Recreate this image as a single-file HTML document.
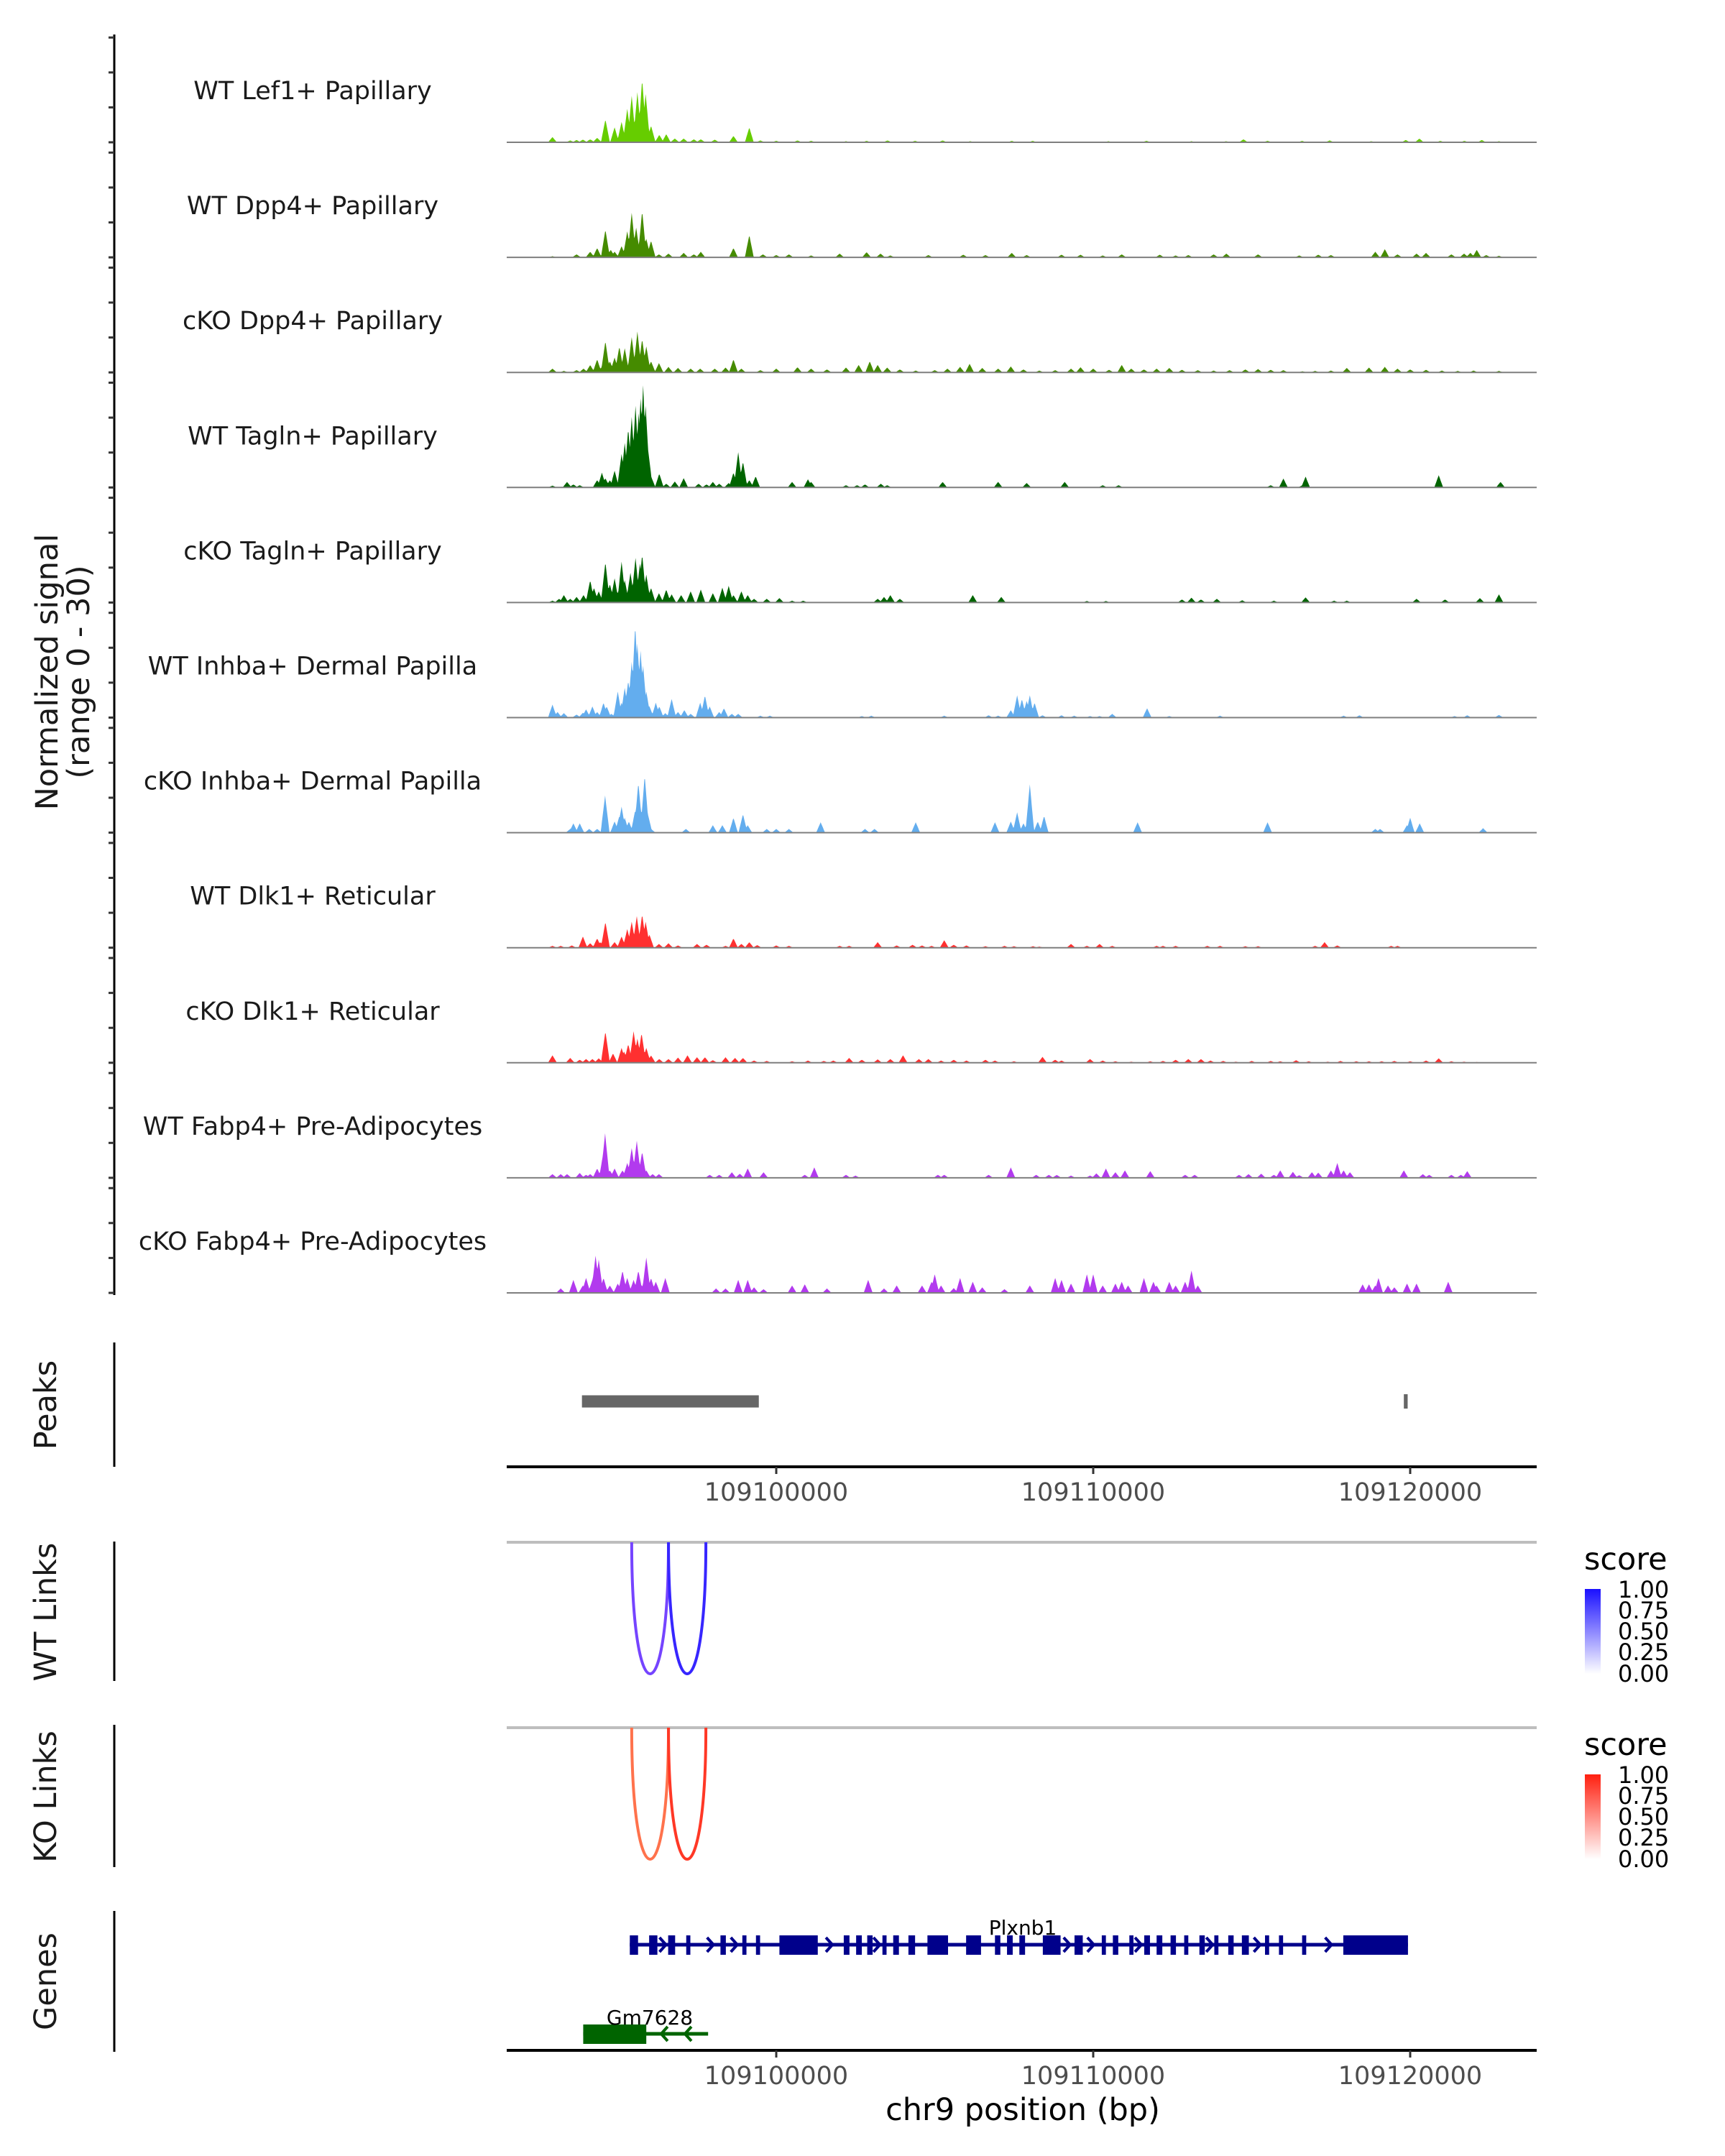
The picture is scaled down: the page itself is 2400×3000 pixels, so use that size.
<!DOCTYPE html>
<html><head><meta charset="utf-8">
<style>
html,body{margin:0;padding:0;background:#fff;}
svg{display:block;font-family:"DejaVu Sans","Liberation Sans",sans-serif;}
</style></head>
<body>
<svg id="chart" width="2400" height="3000" viewBox="0 0 2400 3000" xmlns="http://www.w3.org/2000/svg">
  <g id="tracks"></g>
  <g id="static">
    <text transform="translate(80,935) rotate(-90)" text-anchor="middle" font-size="43" fill="#1a1a1a">Normalized signal</text>
    <text transform="translate(124,935) rotate(-90)" text-anchor="middle" font-size="43" fill="#1a1a1a">(range 0 - 30)</text>
    <text transform="translate(78,1955) rotate(-90)" text-anchor="middle" font-size="43" fill="#1a1a1a">Peaks</text>
    <text transform="translate(78,2243) rotate(-90)" text-anchor="middle" font-size="43" fill="#1a1a1a">WT Links</text>
    <text transform="translate(78,2500) rotate(-90)" text-anchor="middle" font-size="43" fill="#1a1a1a">KO Links</text>
    <text transform="translate(78,2757) rotate(-90)" text-anchor="middle" font-size="43" fill="#1a1a1a">Genes</text>
    <line x1="159" y1="1868" x2="159" y2="2041" stroke="#000" stroke-width="3"/>
    <line x1="159" y1="2145" x2="159" y2="2339" stroke="#000" stroke-width="3"/>
    <line x1="159" y1="2400" x2="159" y2="2598" stroke="#000" stroke-width="3"/>
    <line x1="159" y1="2659" x2="159" y2="2855" stroke="#000" stroke-width="3"/>
    <text x="1423" y="2950" text-anchor="middle" font-size="43" fill="#000">chr9 position (bp)</text>
    <defs>
      <linearGradient id="gblue" x1="0" y1="1" x2="0" y2="0"><stop offset="0" stop-color="#ffffff"/><stop offset="1" stop-color="#1a10ff"/></linearGradient>
      <linearGradient id="gred" x1="0" y1="1" x2="0" y2="0"><stop offset="0" stop-color="#ffffff"/><stop offset="1" stop-color="#ff2010"/></linearGradient>
    </defs>
    <g>
      <text x="2204" y="2184" font-size="43" fill="#000">score</text>
      <rect x="2205" y="2211" width="22" height="118" fill="url(#gblue)"/>
      <text x="2251" y="2223" font-size="32">1.00</text><text x="2251" y="2252" font-size="32">0.75</text><text x="2251" y="2281" font-size="32">0.50</text><text x="2251" y="2310" font-size="32">0.25</text><text x="2251" y="2340" font-size="32">0.00</text>
    </g>
    <g>
      <text x="2204" y="2442" font-size="43" fill="#000">score</text>
      <rect x="2205" y="2469" width="22" height="118" fill="url(#gred)"/>
      <text x="2251" y="2481" font-size="32">1.00</text><text x="2251" y="2510" font-size="32">0.75</text><text x="2251" y="2539" font-size="32">0.50</text><text x="2251" y="2568" font-size="32">0.25</text><text x="2251" y="2598" font-size="32">0.00</text>
    </g>
  </g>
  <g id="dyn"></g>
</svg>
<script>
// ---------- data (positions in kb relative to chr9:109090000) ----------
const trackNames = ["WT Lef1+ Papillary","WT Dpp4+ Papillary","cKO Dpp4+ Papillary","WT Tagln+ Papillary","cKO Tagln+ Papillary","WT Inhba+ Dermal Papilla","cKO Inhba+ Dermal Papilla","WT Dlk1+ Reticular","cKO Dlk1+ Reticular","WT Fabp4+ Pre-Adipocytes","cKO Fabp4+ Pre-Adipocytes"];
const trackColors = ["#66CD00","#458B00","#458B00","#006400","#006400","#63ADEE","#63ADEE","#FF3030","#FF3030","#B23AEE","#B23AEE"];
const t1 = [[2.94,1.4],[3.5,0.5],[3.7,0.6],[3.9,0.7],[4.13,0.8],[4.35,1.2],[4.61,6.2],[4.9,4],[5.12,5.5],[5.3,9],[5.44,12.5],[5.62,13.5],[5.77,17],[5.88,13],[6.05,4.5],[6.31,2],[6.53,2.2],[6.8,1],[7.08,1],[7.4,0.8],[7.62,0.8],[8.06,0.7],[8.65,1.7],[9.15,4],[9.5,0.5],[10.0,0.4],[10.67,0.5],[11.1,0.4],[12.2,0.3],[12.85,0.4],[13.51,0.5],[14.38,0.4],[15.25,0.5],[16.12,0.3],[17.43,0.4],[18.09,0.4],[20.48,0.3],[21.68,0.4],[23.1,0.3],[24.19,0.3],[24.74,0.8],[25.5,0.4],[26.59,0.4],[27.46,0.5],[28.77,0.3],[29.86,0.6],[30.29,1],[30.95,0.4],[31.71,0.4],[32.26,0.6],[32.8,0.3]];
const t2 = [[2.94,0.3],[3.7,0.8],[4.13,1.5],[4.35,2.5],[4.61,7.5],[4.78,2],[4.9,1.5],[5.12,3],[5.3,7],[5.44,12],[5.58,8],[5.77,12.5],[5.9,5],[6.05,4.5],[6.3,0.8],[6.6,1],[7.08,1.2],[7.4,0.8],[7.62,1.5],[8.65,2.5],[9.15,6],[9.58,0.8],[10.0,0.6],[10.4,0.8],[11.1,0.5],[12.0,1],[12.85,1.4],[13.29,1],[13.6,0.5],[14.8,0.6],[15.9,0.7],[16.6,0.6],[17.43,1.2],[17.9,0.6],[19.0,0.7],[19.6,0.7],[20.3,0.5],[20.9,0.8],[22.1,0.7],[22.6,0.5],[23.0,0.6],[23.8,0.8],[24.2,1],[25.2,0.8],[26.5,0.5],[27.1,0.7],[27.5,0.6],[28.9,1.5],[29.2,2.2],[29.6,0.8],[30.2,1],[30.5,1.2],[31.3,0.8],[31.7,1],[31.9,1.2],[32.1,2],[32.4,0.6],[32.8,0.4]];
const t3 = [[2.94,1],[3.3,0.4],[3.7,0.6],[3.92,1],[4.13,2],[4.35,3.5],[4.5,1.5],[4.61,8.5],[4.75,3],[4.9,4],[5.05,7],[5.22,6.5],[5.44,9.5],[5.62,11],[5.77,9],[5.9,7],[6.05,3],[6.3,2.5],[6.6,1.5],[6.9,1.2],[7.3,1],[7.6,1],[8.06,1],[8.4,1.3],[8.65,3.5],[8.9,1],[9.5,0.6],[10.0,1],[10.67,1.4],[11.1,1],[11.6,0.8],[12.2,1.3],[12.6,2],[12.95,3],[13.2,2],[13.5,1.3],[13.9,0.8],[14.4,0.5],[15.0,0.6],[15.4,1],[15.8,1.5],[16.1,2.3],[16.5,1.2],[17.0,1],[17.4,1.6],[17.8,0.8],[18.3,0.5],[18.8,0.6],[19.3,1],[19.6,1.4],[20.0,1],[20.5,0.7],[20.9,2],[21.2,1],[21.6,0.8],[22.0,1],[22.4,1.2],[22.8,0.7],[23.3,0.6],[23.8,0.5],[24.3,0.6],[24.8,0.8],[25.2,0.9],[25.6,0.7],[26.0,0.6],[26.6,0.3],[27.0,0.4],[27.5,0.5],[28.0,1.2],[28.7,1.3],[29.2,1.5],[29.6,1],[30.0,0.8],[30.5,0.7],[31.0,0.5],[31.5,0.4],[32.0,0.5],[32.8,0.4]];
const t4 = [[2.94,0.5],[3.4,1.5],[3.6,0.8],[3.8,0.6],[4.35,2],[4.5,4],[4.61,2.5],[4.75,2],[4.9,4.5],[5.12,9],[5.22,12],[5.33,16],[5.44,19],[5.56,22],[5.66,20],[5.72,24],[5.8,27.5],[5.88,22],[5.96,10],[6.05,3],[6.31,3.7],[6.53,1],[6.8,1.6],[7.08,2.5],[7.55,1],[7.8,0.8],[8.0,1.5],[8.2,1],[8.5,1.2],[8.65,4],[8.8,9.5],[8.95,7],[9.15,2],[9.35,3],[10.5,1.5],[11.0,2.2],[11.1,1.5],[12.2,0.6],[12.55,0.6],[12.8,0.8],[13.3,1],[13.5,0.6],[15.25,1.5],[17.0,1.5],[17.9,1.2],[19.1,1.5],[20.3,0.6],[20.8,0.6],[25.6,0.6],[26.0,2.4],[26.6,0.6],[26.7,2.9],[30.9,3.3],[32.85,1.5]];
const t5 = [[2.94,0.5],[3.15,1],[3.3,2],[3.5,1],[3.7,1.5],[3.92,2],[4.13,6],[4.25,4],[4.4,3],[4.61,11],[4.75,5],[4.9,6.5],[5.05,4],[5.12,11],[5.22,6],[5.4,8],[5.56,12],[5.7,10.5],[5.77,13],[5.9,7.5],[6.05,4],[6.3,2.5],[6.53,3.5],[6.7,2.2],[7.0,2],[7.3,3],[7.62,3.5],[8.0,2.5],[8.3,4],[8.5,4.5],[8.65,2],[8.9,3],[9.1,2],[9.3,1],[9.7,1],[10.1,1.2],[10.5,0.5],[10.85,0.5],[13.2,1],[13.4,1.5],[13.6,2],[13.9,1],[16.2,2],[17.1,1.5],[19.8,0.4],[20.4,0.4],[22.8,0.8],[23.1,1.3],[23.4,0.8],[23.9,1],[24.7,0.6],[25.7,0.5],[26.7,1.4],[27.6,0.5],[28.0,0.5],[30.2,1],[31.1,0.8],[32.2,1.2],[32.8,2.2]];
const t6 = [[2.94,3.5],[3.1,1.5],[3.3,1.2],[3.7,0.8],[3.9,1.3],[4.0,2.2],[4.2,3],[4.35,1.5],[4.55,4],[4.65,3],[4.8,1],[5.0,7],[5.12,4],[5.22,8],[5.33,10],[5.44,15],[5.55,25],[5.62,20],[5.72,18],[5.8,14],[5.9,7],[6.0,3],[6.2,4],[6.31,3],[6.5,1.2],[6.7,5],[6.9,1.5],[7.1,2],[7.3,1],[7.6,4],[7.75,6],[7.9,3],[8.2,1.5],[8.35,2.5],[8.6,1],[8.8,1],[9.5,0.5],[9.8,0.5],[12.7,0.4],[13.0,0.5],[15.3,0.5],[16.7,0.6],[17.0,0.5],[17.4,2],[17.6,6],[17.75,5],[17.9,4.5],[18.0,6],[18.15,4],[18.4,0.6],[19.0,0.6],[19.4,0.5],[19.9,0.4],[20.2,0.4],[20.6,1],[21.7,2.5],[22.4,0.4],[24.0,0.5],[27.9,0.5],[28.4,0.6],[31.4,0.4],[31.8,0.6],[32.8,0.7]];
const t7 = [[3.5,1],[3.6,2.5],[3.8,2.5],[4.1,1],[4.35,1],[4.6,10],[4.9,3],[5.05,4.5],[5.12,7],[5.22,4],[5.35,3],[5.55,6],[5.65,13.5],[5.75,6],[5.85,15.5],[5.95,5],[6.05,1],[7.15,1],[8.0,2],[8.3,2],[8.65,4],[8.95,5],[9.1,2],[9.7,1],[10.0,1],[10.4,1],[11.4,2.8],[12.8,1],[13.1,1],[14.4,2.8],[16.9,2.8],[17.4,3],[17.6,5.5],[17.8,2.5],[18.0,13],[18.25,3],[18.45,4.5],[21.4,2.8],[25.5,2.8],[28.9,1],[29.05,1],[29.9,2],[30.0,4],[30.3,2.5],[32.3,1.2]];
const t8 = [[2.94,0.5],[3.2,0.5],[3.55,0.6],[3.9,3],[4.13,1.2],[4.35,2.5],[4.45,1.5],[4.61,7],[4.9,1.5],[5.12,3],[5.3,5],[5.44,7],[5.6,8.5],[5.77,9],[5.88,7],[6.0,3.5],[6.3,1],[6.6,1.2],[6.9,0.6],[7.5,1],[7.8,0.8],[8.4,0.5],[8.65,2.5],[8.9,1],[9.15,1.5],[9.4,0.7],[10.0,0.6],[10.4,0.5],[12.0,0.5],[12.3,0.5],[13.2,1.5],[13.8,0.6],[14.3,0.8],[14.6,0.6],[14.9,0.5],[15.3,2],[15.6,0.8],[16.0,0.6],[16.6,0.4],[17.2,0.5],[17.5,0.4],[18.1,0.4],[18.3,0.3],[19.3,1],[19.8,0.5],[20.2,1],[20.6,0.5],[22.0,0.5],[22.2,0.5],[22.6,0.5],[23.6,0.5],[24.0,0.5],[24.8,0.4],[25.2,0.4],[27.0,0.5],[27.3,1.5],[27.7,0.6],[29.4,0.5],[29.6,0.5]];
const t9 = [[2.94,2],[3.5,1.3],[3.8,0.8],[4.0,1],[4.2,1],[4.4,1.2],[4.61,8.5],[4.85,2.5],[5.12,4],[5.2,3],[5.33,5],[5.5,8.5],[5.62,6.5],[5.75,8],[5.9,4],[6.05,2],[6.31,1],[6.6,1],[6.9,1.4],[7.2,2],[7.5,1.5],[7.75,1.5],[8.0,0.7],[8.4,1.5],[8.7,1.3],[8.95,1.3],[9.3,0.6],[9.7,0.5],[10.5,0.4],[11.0,0.6],[11.5,0.5],[11.8,0.6],[12.3,1.3],[12.7,0.8],[13.2,0.9],[13.6,1],[14.0,2],[14.5,1],[14.8,1],[15.2,0.6],[15.6,0.8],[16.0,0.6],[16.6,0.8],[16.9,0.6],[17.5,0.4],[18.4,1.6],[18.8,0.8],[19.0,0.6],[19.9,1],[20.3,0.6],[20.7,0.4],[21.2,0.3],[21.8,0.4],[22.2,0.5],[22.6,0.8],[23.0,1],[23.4,1],[23.7,0.6],[24.1,0.5],[24.5,0.3],[25.0,0.5],[25.6,0.5],[25.9,0.4],[26.4,0.7],[26.8,0.4],[27.4,0.3],[27.8,0.5],[28.3,0.4],[28.7,0.4],[29.1,0.4],[29.5,0.5],[30.0,0.4],[30.5,0.6],[30.9,1.2],[31.3,0.4],[31.7,0.3],[32.1,0.2]];
const t10 = [[2.94,1],[3.2,1],[3.4,1],[3.8,1.3],[4.0,0.8],[4.13,1],[4.35,2.5],[4.55,7],[4.6,12],[4.75,2],[4.9,2.5],[5.15,2],[5.3,4],[5.44,8],[5.6,10],[5.77,7],[5.9,2],[6.1,1],[6.3,1],[7.9,0.8],[8.2,0.8],[8.6,1.5],[8.85,1.1],[9.1,2.5],[9.6,1.5],[10.9,0.8],[11.2,2.8],[12.2,0.8],[12.5,0.6],[15.1,0.8],[15.3,0.8],[16.7,0.8],[17.4,2.8],[18.2,0.8],[18.6,0.8],[18.85,0.8],[19.3,0.6],[19.9,0.6],[20.1,1.2],[20.4,2.5],[20.7,1.5],[21.0,2],[21.8,1.8],[22.9,0.8],[23.2,0.8],[24.6,0.8],[24.9,1],[25.3,1.1],[25.7,0.8],[25.9,2],[26.3,1.6],[26.5,0.7],[26.9,1.5],[27.1,1.4],[27.5,2],[27.7,4],[27.9,2],[28.1,1.5],[29.8,2],[30.4,1],[30.6,0.8],[31.3,0.8],[31.6,0.8],[31.8,1.8]];
const t11 = [[3.2,1.2],[3.6,3.5],[3.9,2],[4.0,4],[4.2,3.5],[4.3,10],[4.4,9],[4.55,4],[4.75,2],[5.0,2.5],[5.15,6],[5.3,4],[5.5,3.5],[5.65,6],[5.77,2],[5.9,9.5],[6.05,4],[6.2,3],[6.5,4],[8.1,1.2],[8.4,1.2],[8.8,3.5],[9.1,3.5],[9.3,1.5],[9.6,1],[10.5,2],[10.9,2.3],[11.6,1.2],[12.9,3.5],[13.4,1.2],[13.8,2],[14.6,2],[14.9,3],[15.0,5],[15.2,2],[15.6,1.3],[15.8,4],[16.2,3],[16.5,1.5],[17.2,1],[18.0,2],[18.8,4],[19.0,3.5],[19.3,2.5],[19.8,5],[20.0,5],[20.3,2],[20.7,2.5],[20.9,3],[21.1,2],[21.6,4],[21.9,3],[22.0,2],[22.4,3],[22.6,2],[22.9,3],[23.1,6],[23.3,2],[28.5,2.3],[28.7,2.3],[28.9,2],[29.0,4],[29.3,2],[29.5,1.5],[29.9,2.5],[30.2,2.5],[31.2,3]];
const trackData = [t1,t2,t3,t4,t5,t6,t7,t8,t9,t10,t11];
const signalTicks = [0, 9.4, 18.8, 28.2];
const xTickValues = [10, 20, 30];
const xTickLabels = ["109100000","109110000","109120000"];
const peakRegions = [[3.87,9.45],[29.8,29.92]];
const linkStarts = [5.44, 6.60];
const linkEnds = [6.60, 7.78];
const wtScores = [0.75, 0.95];
const koScores = [0.7, 0.95];
const plxnb1Range = [5.38, 29.93];
const plxnb1Exons = [[5.38,5.64],[5.99,6.25],[6.59,6.81],[7.16,7.29],[8.24,8.41],[8.93,9.06],[9.36,9.49],[10.10,11.31],[12.13,12.31],[12.52,12.70],[12.87,13.04],[13.35,13.48],[13.69,13.87],[14.17,14.38],[14.77,15.42],[15.99,16.46],[16.90,17.07],[17.28,17.46],[17.67,17.85],[18.41,18.97],[19.41,19.67],[20.27,20.40],[20.62,20.79],[21.14,21.27],[21.61,21.79],[22.00,22.18],[22.44,22.61],[22.87,23.00],[23.35,23.52],[23.82,23.95],[24.26,24.43],[24.69,24.91],[25.42,25.55],[25.86,25.99],[26.59,26.72],[27.89,29.93]];
const gmRange = [3.91, 7.85];
const gmExons = [[3.91,5.90]];

// ---------- scales ----------
const X0 = 705, X1 = 2138;
function xs(kb){ return 1080 + (kb - 10) * 44.1; }
const baselines = trackNames.map((n,i)=>198 + 160.1*i);
function ys(i, v){ return baselines[i] - v * 5.17; }

const NS = "http://www.w3.org/2000/svg";
function mk(tag, attrs, parent){
  const e = document.createElementNS(NS, tag);
  for (const k in attrs) e.setAttribute(k, attrs[k]);
  parent.appendChild(e);
  return e;
}
const dyn = document.getElementById('dyn');
const tracksG = document.getElementById('tracks');

const yax = mk('line', {x1:159, y1:48, x2:159, y2:1802, stroke:'#000', 'stroke-width':3}, tracksG);



const HW = 0.14, STEP = 0.02;
trackData.forEach((peaks, i) => {
  const g = mk('g', {}, tracksG);
  
  
  signalTicks.forEach(t => {
    const tk = mk('line', {x1:151, x2:159, y1:ys(i,t), y2:ys(i,t), stroke:'#333', 'stroke-width':3}, g);
    
    
  });
  const lbl = mk('text', {x:435, y:baselines[i]-60, 'text-anchor':'middle', 'font-size':35, fill:'#1a1a1a'}, g);
  lbl.textContent = trackNames[i];
  
  
  let d = 'M' + xs(1.5).toFixed(1) + ' ' + baselines[i];
  for (let k = 1.5; k <= 34; k += STEP) {
    let v = 0;
    for (const p of peaks) {
      const dd = Math.abs(k - p[0]);
      if (dd < HW) v = Math.max(v, p[1] * (1 - dd / HW));
    }
    d += 'L' + xs(k).toFixed(1) + ' ' + ys(i, v).toFixed(1);
  }
  d += 'L' + xs(34).toFixed(1) + ' ' + baselines[i] + 'Z';
  const ar = mk('path', {d:d, fill:trackColors[i], stroke:'none'}, g);
  
  
  const bl = mk('line', {x1:X0, x2:X1, y1:baselines[i], y2:baselines[i], stroke:'#7f7f7f', 'stroke-width':2}, g);
  
  
});

peakRegions.forEach(r => {
  const w = Math.max(xs(r[1]) - xs(r[0]), 5);
  const h = (r[1]-r[0] < 0.5) ? 20 : 17;
  const pk = mk('rect', {x:xs(r[0]), y:1950 - h/2, width:w, height:h, fill:'#666'}, dyn);
  
  
});

function xAxis(y, name){
  const ax = mk('line', {x1:X0, x2:X1, y1:y, y2:y, stroke:'#000', 'stroke-width':4}, dyn);
  
  
  xTickValues.forEach((t, j) => {
    const tk = mk('line', {x1:xs(t), x2:xs(t), y1:y, y2:y+10, stroke:'#333', 'stroke-width':3}, dyn);
    
    
    const tl = mk('text', {x:xs(t), y:y+47, 'text-anchor':'middle', 'font-size':35, fill:'#4d4d4d'}, dyn);
    tl.textContent = xTickLabels[j];
    
    
  });
}
xAxis(2041, 'peaks-x-axis');
xAxis(2853, 'genes-x-axis');

function links(topY, botY, scores, base, name){
  const gl = mk('line', {x1:X0, x2:X1, y1:topY, y2:topY, stroke:'#bebebe', 'stroke-width':4}, dyn);
  
  
  linkStarts.forEach((s, j) => {
    const a = xs(s), b = xs(linkEnds[j]);
    const sc = scores[j];
    const col = base === 'blue'
      ? 'rgb(' + Math.round(255*(1-sc)*1.2+40) + ',' + Math.round(255*(1-sc)*0.6+30) + ',255)'
      : 'rgb(255,' + Math.round(255*(1-sc)*0.9+45) + ',' + Math.round(255*(1-sc)*0.6+30) + ')';
    const dep = (botY - topY) * 4/3;
    const p = mk('path', {d:'M'+a+' '+topY+' C'+a+' '+(topY+dep)+' '+b+' '+(topY+dep)+' '+b+' '+topY, fill:'none', stroke:col, 'stroke-width':4}, dyn);
    
    
  });
}
links(2146, 2329, wtScores, 'blue', 'wt-link');
links(2404, 2587, koScores, 'red', 'ko-link');

function gene(range, exons, y, col, dir, label, lx, ly, name){
  const g = mk('g', {}, dyn);
  
  
  mk('line', {x1:xs(range[0]), x2:xs(range[1]), y1:y, y2:y, stroke:col, 'stroke-width':5}, g);
  for (let k = range[0] + 0.3; k < range[1]; k += 0.75) {
    const inEx = exons.some(e => k >= e[0]-0.1 && k <= e[1]+0.1);
    if (inEx) continue;
    const x = xs(k);
    const ch = mk('path', {d: dir > 0 ? 'M'+(x-5)+' '+(y-10)+' L'+(x+4)+' '+y+' L'+(x-5)+' '+(y+10) : 'M'+(x+5)+' '+(y-10)+' L'+(x-4)+' '+y+' L'+(x+5)+' '+(y+10), fill:'none', stroke:col, 'stroke-width':4}, g);
    
    
  }
  exons.forEach(e => {
    const r = mk('rect', {x:xs(e[0]), y:y-13, width:Math.max(xs(e[1])-xs(e[0]),4), height:27, fill:col}, g);
    
    
  });
  const t = mk('text', {x:lx, y:ly, 'text-anchor':'middle', 'font-size':28, fill:'#000'}, g);
  t.textContent = label;
  
  
}
gene(plxnb1Range, plxnb1Exons, 2706, '#00008B', 1, 'Plxnb1', 1423, 2692, 'gene-plxnb1');
gene(gmRange, gmExons, 2830, '#006400', -1, 'Gm7628', 904, 2817, 'gene-gm7628');
</script>
</body></html>
